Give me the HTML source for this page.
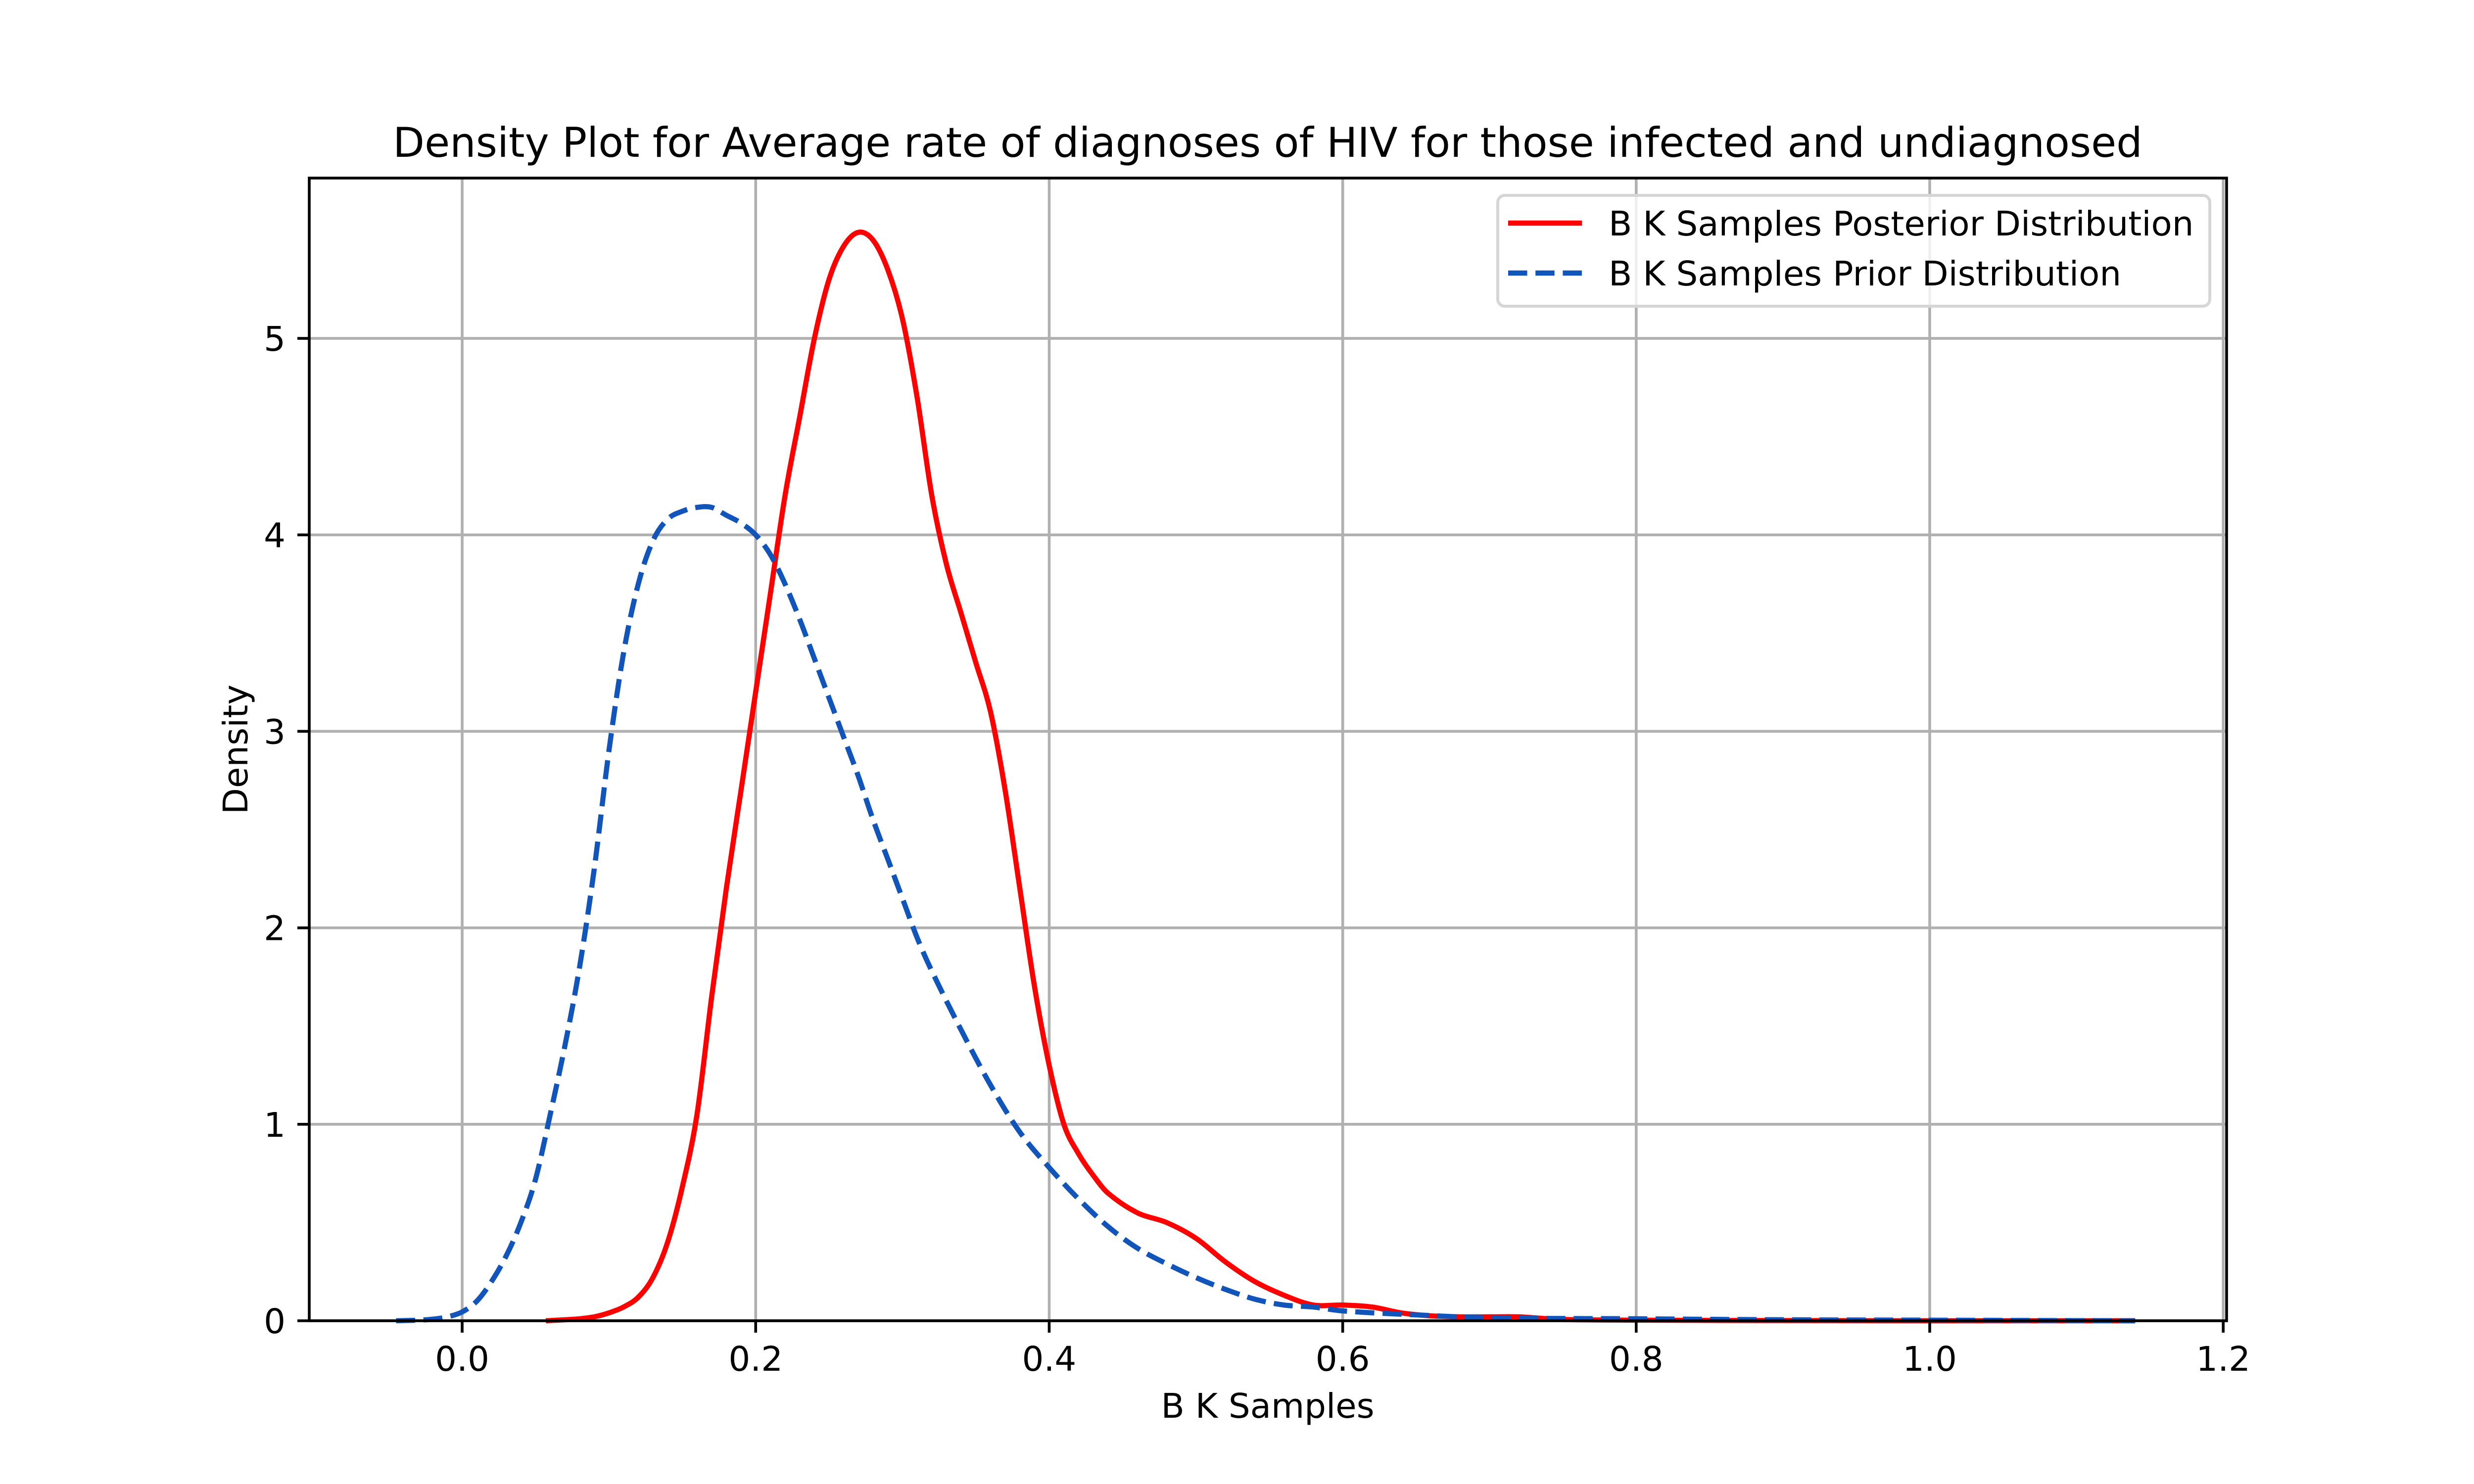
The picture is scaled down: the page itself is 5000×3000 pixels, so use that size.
<!DOCTYPE html>
<html><head><meta charset="utf-8">
<style>
html,body{margin:0;padding:0;background:#fff;}
svg{display:block;}
text{font-family:"DejaVu Sans","Liberation Sans",sans-serif;fill:#000;}
</style></head>
<body>
<svg id="chart" width="5000" height="3000" viewBox="0 0 5000 3000" xmlns="http://www.w3.org/2000/svg">
<rect x="0" y="0" width="5000" height="3000" fill="#fff"/>
<g id="grid"></g>
<g id="series"></g>
<g id="axes"></g>
<text x="2562" y="317" font-size="83" text-anchor="middle">Density Plot for Average rate of diagnoses of HIV for those infected and undiagnosed</text>
<text x="2562" y="2866" font-size="69" text-anchor="middle">B K Samples</text>
<text x="0" y="0" font-size="69" text-anchor="middle" transform="translate(500,1515) rotate(-90)">Density</text>
<g>
<rect x="3027" y="395" width="1439" height="224" rx="14" fill="#fff" fill-opacity="0.8" stroke="#d6d6d6" stroke-width="6"/>
<line x1="3048" y1="451" x2="3197" y2="451" stroke="#ff0000" stroke-width="10.4"/>
<text x="3251" y="476" font-size="69">B K Samples Posterior Distribution</text>
<line x1="3048" y1="552" x2="3197" y2="552" stroke="#1155bb" stroke-width="10.4" stroke-dasharray="38.5,16.7"/>
<text x="3251" y="577" font-size="69">B K Samples Prior Distribution</text>
</g>
</svg>
<script>
const xTicks = [0.0, 0.2, 0.4, 0.6, 0.8, 1.0, 1.2];
const xTickLabels = ["0.0", "0.2", "0.4", "0.6", "0.8", "1.0", "1.2"];
const yTicks = [0, 1, 2, 3, 4, 5];
const yTickLabels = ["0", "1", "2", "3", "4", "5"];
const posteriorX = [0.057,0.07,0.08,0.09,0.10,0.11,0.12,0.13,0.14,0.15,0.16,0.17,0.18,0.19,0.20,0.21,0.22,0.23,0.24,0.25,0.26,0.27,0.28,0.29,0.30,0.31,0.32,0.33,0.34,0.35,0.36,0.37,0.38,0.39,0.40,0.41,0.42,0.43,0.44,0.46,0.48,0.50,0.52,0.54,0.56,0.58,0.60,0.62,0.64,0.66,0.68,0.70,0.72,0.74,0.76,0.80,0.90,1.00,1.14];
const posteriorY = [0,0.005,0.01,0.02,0.04,0.07,0.12,0.22,0.4,0.68,1.05,1.65,2.2,2.7,3.2,3.7,4.2,4.6,5.0,5.3,5.47,5.54,5.5,5.35,5.1,4.7,4.2,3.85,3.6,3.35,3.1,2.7,2.2,1.7,1.3,1.0,0.85,0.74,0.65,0.55,0.5,0.42,0.3,0.2,0.13,0.08,0.08,0.07,0.04,0.025,0.02,0.02,0.02,0.01,0.005,0.003,0.001,0,0];
const priorX = [-0.045,-0.03,-0.02,-0.01,0,0.01,0.02,0.03,0.04,0.05,0.06,0.07,0.08,0.09,0.10,0.11,0.12,0.13,0.14,0.15,0.16,0.17,0.18,0.19,0.20,0.21,0.22,0.23,0.24,0.25,0.26,0.27,0.28,0.29,0.30,0.31,0.32,0.34,0.36,0.38,0.40,0.42,0.44,0.46,0.48,0.50,0.52,0.54,0.56,0.58,0.60,0.65,0.70,0.80,0.90,1.00,1.14];
const priorY = [0,0.003,0.008,0.02,0.045,0.1,0.2,0.33,0.5,0.72,1.05,1.4,1.8,2.3,2.9,3.4,3.75,3.97,4.08,4.12,4.14,4.14,4.1,4.06,4.0,3.9,3.75,3.57,3.37,3.17,2.97,2.77,2.55,2.35,2.15,1.95,1.78,1.48,1.2,0.96,0.78,0.62,0.48,0.37,0.29,0.22,0.16,0.11,0.08,0.07,0.05,0.03,0.015,0.01,0.005,0.003,0];

const NS = "http://www.w3.org/2000/svg";
const L = 625, R = 4500, T = 360, B = 2670;
const xMin = -0.1042, xMax = 1.2023, yMin = 0, yMax = 5.816;
function sx(v){ return L + (v - xMin) / (xMax - xMin) * (R - L); }
function sy(v){ return B - (v - yMin) / (yMax - yMin) * (B - T); }
function mk(tag, attrs, parent){
  const e = document.createElementNS(NS, tag);
  for (const k in attrs) e.setAttribute(k, attrs[k]);
  parent.appendChild(e);
  return e;
}
const grid = document.getElementById('grid');
const axes = document.getElementById('axes');
const series = document.getElementById('series');

xTicks.forEach((t, i) => {
  const x = sx(t);
  const g = mk('line', {x1:x, y1:T, x2:x, y2:B, stroke:'#b0b0b0', 'stroke-width':5.6}, grid);
  
  
  const tk = mk('line', {x1:x, y1:B, x2:x, y2:B+24, stroke:'#000', 'stroke-width':5.6}, axes);
  
  
  const tx = mk('text', {x:x, y:2771, 'font-size':69, 'text-anchor':'middle'}, axes);
  tx.textContent = xTickLabels[i];
  
  
});
yTicks.forEach((t, i) => {
  const y = sy(t);
  const g = mk('line', {x1:L, y1:y, x2:R, y2:y, stroke:'#b0b0b0', 'stroke-width':5.6}, grid);
  
  
  const tk = mk('line', {x1:L-24, y1:y, x2:L, y2:y, stroke:'#000', 'stroke-width':5.6}, axes);
  
  
  const tx = mk('text', {x:L-48, y:y+25, 'font-size':69, 'text-anchor':'end'}, axes);
  tx.textContent = yTickLabels[i];
  
  
});
const frame = mk('rect', {x:L, y:T, width:R-L, height:B-T, fill:'none', stroke:'#000', 'stroke-width':5.6}, axes);



function smoothPath(xs, ys){
  const p = xs.map((v, i) => [sx(v), sy(ys[i])]);
  let d = 'M' + p[0][0].toFixed(1) + ',' + p[0][1].toFixed(1);
  for (let i = 0; i < p.length - 1; i++){
    const p0 = p[Math.max(0, i-1)], p1 = p[i], p2 = p[i+1], p3 = p[Math.min(p.length-1, i+2)];
    const h = p2[0] - p1[0];
    const m1 = (p2[1]-p0[1]) / Math.max(1e-6, p2[0]-p0[0]);
    const m2 = (p3[1]-p1[1]) / Math.max(1e-6, p3[0]-p1[0]);
    const c1x = p1[0] + h/3, c1y = p1[1] + m1*h/3;
    const c2x = p2[0] - h/3, c2y = p2[1] - m2*h/3;
    d += ' C' + c1x.toFixed(1) + ',' + Math.min(B, c1y).toFixed(1) + ' ' + c2x.toFixed(1) + ',' + Math.min(B, c2y).toFixed(1) + ' ' + p2[0].toFixed(1) + ',' + p2[1].toFixed(1);
  }
  return d;
}
const post = mk('path', {d:smoothPath(posteriorX, posteriorY), fill:'none', stroke:'#ff0000', 'stroke-width':10.4, 'stroke-linejoin':'round'}, series);


const prior = mk('path', {d:smoothPath(priorX, priorY), fill:'none', stroke:'#1155bb', 'stroke-width':10.4, 'stroke-dasharray':'38.5,16.7'}, series);


</script>
</body></html>
